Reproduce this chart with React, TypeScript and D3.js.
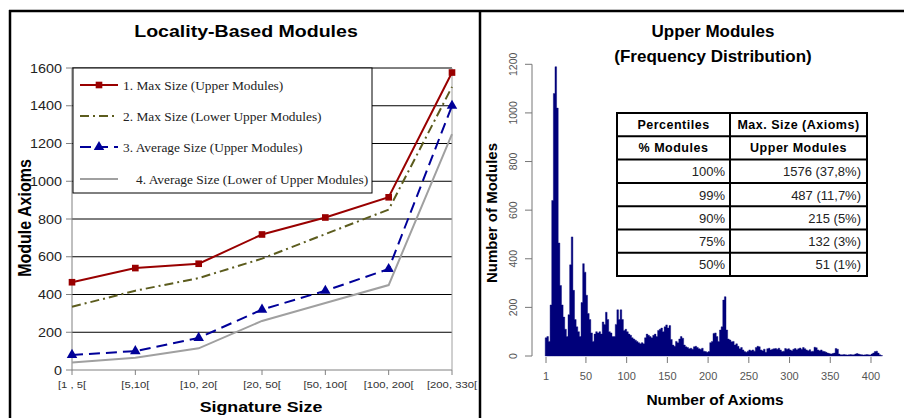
import React from "react"
import * as d3 from "d3"

// ---- left chart data ----
const categories = ["[1 , 5[", "[5,10[", "[10, 20[", "[20, 50[", "[50, 100[", "[100, 200[", "[200, 330["]
const maxUpper = [465, 540, 563, 718, 808, 915, 1576]
const maxLower = [335, 420, 487, 590, 720, 850, 1500]
const avgUpper = [80, 100, 170, 320, 420, 535, 1400]
const avgLower = [40, 65, 115, 260, 355, 450, 1250]
const seriesNames = [
	"1. Max Size (Upper Modules)",
	"2. Max Size (Lower Upper Modules)",
	"3. Average Size (Upper Modules)",
	"4. Average Size (Lower of Upper Modules)",
]
const leftTicks = [0, 200, 400, 600, 800, 1000, 1200, 1400, 1600]

// ---- right chart data: module counts per 2-axiom bin, bins start at 0 ----
const binWidth = 2
const binCounts = [
	75, 80, 60, 210, 640, 1080, 1190, 1020, 465, 290, 210, 160, 110, 80, 170, 375, 490, 270, 150, 120,
	100, 80, 220, 380, 345, 250, 175, 150, 95, 60, 90, 100, 95, 100, 90, 140, 130, 180, 150, 100,
	95, 80, 80, 130, 190, 150, 190, 150, 105, 110, 100, 90, 85, 75, 70, 65, 60, 55, 50, 55,
	50, 75, 90, 85, 80, 75, 85, 90, 80, 105, 110, 115, 100, 120, 128, 115, 125, 68, 45, 40,
	60, 55, 70, 80, 73, 45, 38, 35, 30, 32, 28, 38, 40, 35, 30, 28, 32, 20, 18, 15,
	18, 55, 60, 93, 95, 80, 60, 107, 120, 230, 244, 107, 70, 66, 59, 60, 45, 50, 40, 30,
	35, 25, 18, 15, 20, 25, 22, 25, 20, 35, 40, 38, 25, 22, 28, 15, 30, 32, 25, 28,
	30, 31, 28, 32, 25, 18, 20, 31, 28, 30, 25, 22, 28, 31, 26, 30, 33, 28, 35, 30,
	25, 22, 26, 18, 20, 36, 34, 25, 22, 25, 20, 18, 15, 12, 10, 8, 10, 12, 31, 28,
	8, 5, 5, 6, 5, 4, 5, 6, 5, 5, 8, 10, 8, 6, 5, 4, 5, 6, 5, 4,
	8, 12, 18, 20, 12, 5, 2,
]
const histXTicks = [1, 50, 100, 150, 200, 250, 300, 350, 400]
const histYTicks = [0, 200, 400, 600, 800, 1000, 1200]
const percentiles = ["100%", "99%", "90%", "75%", "50%"]
const maxSizes = ["1576 (37,8%)", "487 (11,7%)", "215 (5%)", "132 (3%)", "51 (1%)"]

const sans = "Arial, 'Liberation Sans', sans-serif"
const serif = "'Times New Roman', 'Liberation Serif', serif"
// the left panel of the picture is stretched sideways
const SX = 1.15

// text that is scaled horizontally around its anchor
function ST({ x, y, sx = SX, rot = 0, children, ...rest }: any) {
	return (
		<text transform={`translate(${x},${y}) scale(${sx},1)${rot ? ` rotate(${rot})` : ""}`} {...rest}>
			{children}
		</text>
	)
}

function LeftChart() {
	const x = d3.scalePoint<string>().domain(categories).range([72, 452])
	const y = d3.scaleLinear().domain([0, 1600]).range([370, 68])
	const line = d3
		.line<number>()
		.x((_, i) => x(categories[i]) as number)
		.y((d) => y(d))
	const square = d3.symbol(d3.symbolSquare, 44)()
	const triangle = d3.symbol(d3.symbolTriangle, 48)()

	const styles = [
		{ data: maxUpper, color: "#990000", dash: "none", marker: square },
		{ data: maxLower, color: "#5c5c1e", dash: "9,4,2,4", marker: null },
		{ data: avgUpper, color: "#000099", dash: "11,6", marker: triangle },
		{ data: avgLower, color: "#a0a0a0", dash: "none", marker: null },
	]
	const legendY = [85, 116, 147, 179]
	const legendTextX = [123, 123, 123, 136]

	return (
		<g>
			<ST x={246} y={37} textAnchor="middle" fontFamily={sans} fontWeight="bold" fontSize={17} fill="#000">
				Locality-Based Modules
			</ST>
			{/* grid */}
			{leftTicks.map((t) => (
				<g key={t}>
					<line x1={72} x2={452} y1={y(t)} y2={y(t)} stroke={t === 0 ? "#808080" : "#000"} strokeWidth={1} />
					<line x1={66} x2={72} y1={y(t)} y2={y(t)} stroke="#808080" />
					<ST x={62} y={y(t) + 4.5} textAnchor="end" fontFamily={sans} fontSize={12.5} fill="#222">
						{t}
					</ST>
				</g>
			))}
			<line x1={72} x2={72} y1={68} y2={370} stroke="#808080" />
			<line x1={452} x2={452} y1={68} y2={370} stroke="#a0a0a0" />
			{categories.map((c) => (
				<g key={c}>
					<line x1={x(c)} x2={x(c)} y1={370} y2={375} stroke="#808080" />
					<ST x={x(c)} y={388} textAnchor="middle" fontFamily={sans} fontSize={9.8} fill="#333">
						{c}
					</ST>
				</g>
			))}
			{/* series */}
			{styles.map((s, i) => (
				<g key={i}>
					<path d={line(s.data) as string} fill="none" stroke={s.color} strokeWidth={2} strokeDasharray={s.dash} />
					{s.marker &&
						s.data.map((d, j) => (
							<path key={j} d={s.marker as string} transform={`translate(${x(categories[j])},${y(d)})`} fill={s.color} />
						))}
				</g>
			))}
			{/* legend */}
			<rect x={73} y={68} width={299} height={125} fill="#fff" stroke="#000" strokeWidth={1} />
			{styles.map((s, i) => (
				<g key={i}>
					<line x1={80} x2={118} y1={legendY[i]} y2={legendY[i]} stroke={s.color} strokeWidth={2} strokeDasharray={s.dash} />
					{s.marker && <path d={s.marker} transform={`translate(99,${legendY[i]})`} fill={s.color} />}
					<text x={legendTextX[i]} y={legendY[i] + 5} fontFamily={serif} fontSize={13.4} fill="#222">
						{seriesNames[i]}
					</text>
				</g>
			))}
			<ST x={25} y={218} rot={-90} textAnchor="middle" dominantBaseline="central" fontFamily={sans} fontWeight="bold" fontSize={16} fill="#000">
				Module Axioms
			</ST>
			<ST x={261} y={412} textAnchor="middle" fontFamily={sans} fontWeight="bold" fontSize={15.5} fill="#000">
				Signature Size
			</ST>
		</g>
	)
}

function RightChart() {
	const x = d3.scaleLinear().domain([0, 414]).range([545.2, 882.4])
	const y = d3.scaleLinear().domain([0, 1200]).range([356, 64.3])

	// histogram drawn as one stepped area so neighbouring bins do not leave seams
	const pts: [number, number][] = binCounts.map((c, i) => [i * binWidth, c])
	pts.push([binCounts.length * binWidth, binCounts[binCounts.length - 1]])
	const area = d3
		.area<[number, number]>()
		.x((d) => x(d[0]))
		.y0(y(0))
		.y1((d) => y(d[1]))
		.curve(d3.curveStepAfter)

	// table layout
	const colX = [617, 730, 867]
	const rowTop = 113
	const rowH = 23.3
	const nRows = 2 + percentiles.length

	return (
		<g>
			<text x={713} y={37} textAnchor="middle" fontFamily={sans} fontWeight="bold" fontSize={17} fill="#000">
				Upper Modules
			</text>
			<text x={713} y={62} textAnchor="middle" fontFamily={sans} fontWeight="bold" fontSize={17} fill="#000">
				(Frequency Distribution)
			</text>
			<path d={area(pts) as string} fill="#00007a" stroke="#00007a" strokeWidth={0.4} />
			{/* y axis */}
			<line x1={532} x2={532} y1={y(0)} y2={y(1200)} stroke="#777" />
			{histYTicks.map((t) => (
				<g key={t}>
					<line x1={525} x2={532} y1={y(t)} y2={y(t)} stroke="#777" />
					<text transform={`translate(517,${y(t)}) rotate(-90)`} textAnchor="middle" fontFamily={sans} fontSize={10.5} fill="#555">
						{t}
					</text>
				</g>
			))}
			{/* x axis */}
			{histXTicks.map((t) => (
				<g key={t}>
					<line x1={x(t)} x2={x(t)} y1={357} y2={363} stroke="#777" />
					<text x={x(t)} y={380} textAnchor="middle" fontFamily={sans} fontSize={11} fill="#555">
						{t}
					</text>
				</g>
			))}
			<text transform="translate(497,213) rotate(-90)" textAnchor="middle" fontFamily={sans} fontWeight="bold" fontSize={15} fill="#000">
				Number of Modules
			</text>
			<text x={715} y={405} textAnchor="middle" fontFamily={sans} fontWeight="bold" fontSize={15.5} fill="#000">
				Number of Axioms
			</text>
			{/* percentile table */}
			<rect x={colX[0]} y={rowTop} width={colX[2] - colX[0]} height={rowH * nRows} fill="#fff" />
			{d3.range(nRows + 1).map((r) => (
				<line key={r} x1={colX[0]} x2={colX[2]} y1={rowTop + r * rowH} y2={rowTop + r * rowH} stroke="#000" strokeWidth={2} />
			))}
			{colX.map((cx) => (
				<line key={cx} x1={cx} x2={cx} y1={rowTop - 1} y2={rowTop + nRows * rowH + 1} stroke="#000" strokeWidth={2} />
			))}
			{[
				["Percentiles", "Max. Size (Axioms)"],
				["% Modules", "Upper Modules"],
			].map((row, r) => (
				<g key={r} fontFamily={sans} fontWeight="bold" fontSize={12.5} fill="#000" textAnchor="middle" letterSpacing={0.5}>
					<text x={(colX[0] + colX[1]) / 2} y={rowTop + r * rowH + rowH / 2 + 4.5}>
						{row[0]}
					</text>
					<text x={(colX[1] + colX[2]) / 2} y={rowTop + r * rowH + rowH / 2 + 4.5}>
						{row[1]}
					</text>
				</g>
			))}
			{percentiles.map((p, i) => (
				<g key={p} fontFamily={sans} fontSize={13} fill="#222" textAnchor="end">
					<text x={colX[1] - 5} y={rowTop + (i + 2) * rowH + rowH / 2 + 5}>
						{p}
					</text>
					<text x={colX[2] - 6} y={rowTop + (i + 2) * rowH + rowH / 2 + 5}>
						{maxSizes[i]}
					</text>
				</g>
			))}
		</g>
	)
}

export default function App() {
	return (
		<svg width={904} height={418} style={{ position: "absolute", left: 0, top: 0, background: "#fff" }}>
			<LeftChart />
			<RightChart />
			{/* panel frame */}
			<line x1={9} x2={904} y1={11} y2={11} stroke="#000" strokeWidth={2.5} />
			<line x1={10} x2={10} y1={10} y2={418} stroke="#000" strokeWidth={2.5} />
			<line x1={480} x2={480} y1={10} y2={418} stroke="#000" strokeWidth={2.5} />
		</svg>
	)
}
